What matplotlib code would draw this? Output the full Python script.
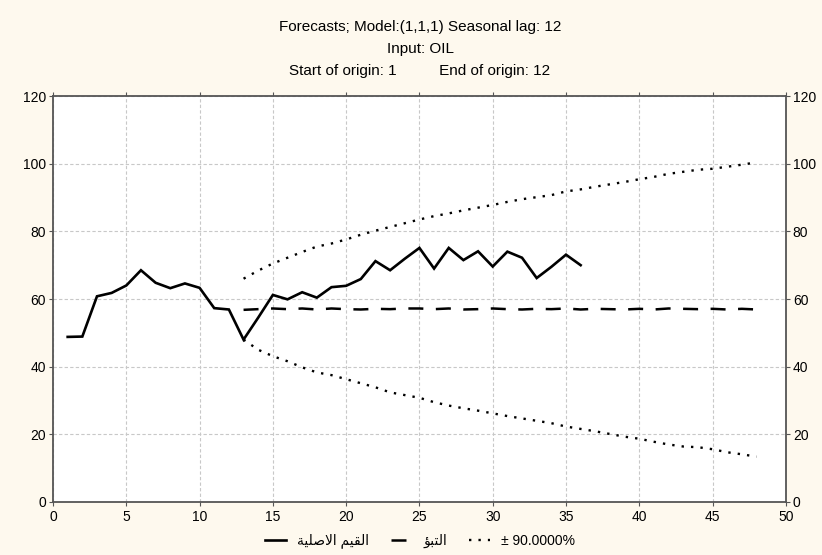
import matplotlib
matplotlib.use("Agg")
import matplotlib.pyplot as plt
from matplotlib.lines import Line2D

# ---- data ----
x_actual = list(range(1, 37))
actual = [48.8, 48.9, 60.8, 61.8, 64.0, 68.5, 64.8, 63.2, 64.6, 63.3,
          57.3, 56.9, 48.0, 54.5, 61.2, 59.9, 62.0, 60.4, 63.5, 63.9,
          65.9, 71.2, 68.5, 71.9, 75.1, 69.0, 75.1, 71.5, 74.1, 69.6,
          74.0, 72.2, 66.2, 69.5, 73.1, 70.0]

x_fc = list(range(13, 49))
forecast = [56.8, 57.0, 57.2, 57.0, 57.2, 56.9, 57.2, 57.0, 56.9, 57.1,
            57.0, 57.2, 57.2, 57.0, 57.2, 56.9, 57.0, 57.2, 57.0, 56.9,
            57.1, 57.0, 57.2, 56.9, 57.1, 57.0, 56.9, 57.1, 56.9, 57.2,
            57.1, 57.0, 57.1, 56.9, 57.1, 56.9]
upper = [66.0, 68.4, 70.5, 72.2, 73.9, 75.5, 76.4, 77.6, 79.0, 80.2,
         81.3, 82.4, 83.5, 84.5, 85.3, 86.2, 87.0, 87.8, 88.7, 89.5,
         90.1, 90.7, 91.8, 92.4, 93.2, 93.9, 94.6, 95.4, 96.1, 97.0,
         97.6, 98.2, 98.5, 99.1, 99.7, 100.4]
lower = [48.0, 45.0, 43.1, 41.6, 39.8, 38.3, 37.5, 36.3, 35.1, 33.9,
         32.4, 31.6, 30.8, 29.5, 28.5, 27.7, 27.0, 26.2, 25.4, 24.7,
         24.0, 23.3, 22.3, 21.6, 20.9, 20.1, 19.3, 18.7, 17.8, 17.0,
         16.4, 16.2, 15.6, 14.7, 14.1, 13.4]

xticks = [0, 5, 10, 15, 20, 25, 30, 35, 40, 45, 50]
yticks = [0, 20, 40, 60, 80, 100, 120]

title_lines = ["Forecasts; Model:(1,1,1) Seasonal lag: 12",
               "Input: OIL",
               "Start of origin: 1          End of origin: 12"]
# Arabic legend labels (shaped presentation forms, visual order)
label_actual = "\uFE94\uFEF4\uFEE0\uFEBB\uFEFB\uFE8D \uFEE2\uFEF4\uFED8\uFEDF\uFE8D"  # القيم الاصلية
label_fc = "\uFE86\uFE92\uFE98\uFEDF\uFE8D"  # التبؤ
label_ci = "\u00B1 90.0000%"

# ---- style ----
plt.rcParams['font.family'] = ['Liberation Sans', 'DejaVu Sans']
bg = '#FEF9EE'
fig = plt.figure(figsize=(8.22, 5.55), dpi=100, facecolor=bg)
ax = fig.add_axes([0.0645, 0.0955, 0.8915, 0.7315])
ax.set_facecolor('white')

ax.plot(x_actual, actual, color='black', lw=1.9, solid_joinstyle='miter')
ax.plot(x_fc, forecast, color='black', lw=1.8, dashes=(6, 5))
ax.plot(x_fc, upper, color='black', lw=1.7, linestyle=(0, (1, 3)))
ax.plot(x_fc, lower, color='black', lw=1.7, linestyle=(0, (1, 3)))

ax.set_xlim(0, 50)
ax.set_ylim(0, 120)
ax.set_xticks(xticks)
ax.set_yticks(yticks)
ax.grid(True, color='#c8c8c8', lw=0.8, dashes=(3, 2))
ax.set_axisbelow(True)
for s in ax.spines.values():
    s.set_color('#555555')
    s.set_linewidth(1.3)
ax.tick_params(axis='both', labelsize=10, color='#555555', length=3,
               right=True, labelright=True, top=True, pad=2)
ax.tick_params(axis='x', top=True, direction='out', pad=3)

for i, t in enumerate(title_lines):
    fig.text(0.511, 1 - (27.5 + 21.5 * i) / 555, t, ha='center', va='center', fontsize=11)

handles = [Line2D([], [], color='black', lw=1.9),
           Line2D([], [], color='black', lw=1.8, dashes=(6, 5)),
           Line2D([], [], color='black', lw=1.7, linestyle=(0, (1, 3)))]
fig.legend(handles, [label_actual, label_fc, label_ci], loc='center',
           bbox_to_anchor=(0.511, 1 - 541 / 555), ncol=3, frameon=False,
           fontsize=10, handlelength=1.5, columnspacing=1.6, handletextpad=0.8)

fig.savefig('out.png', dpi=100, facecolor=bg)
